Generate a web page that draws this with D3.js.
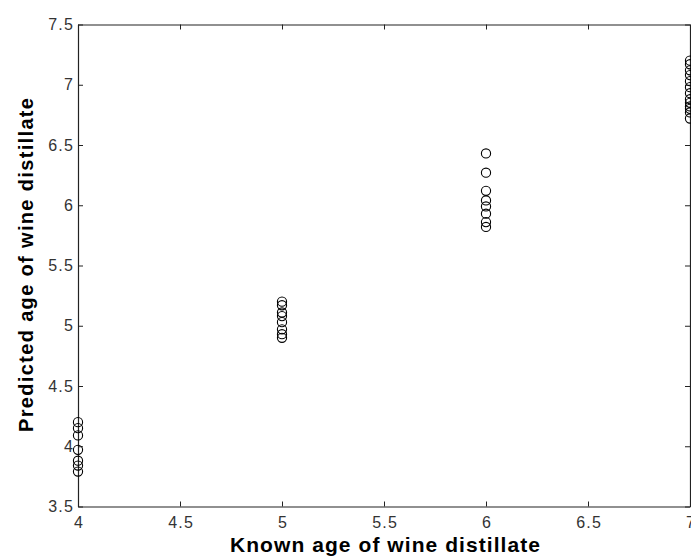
<!DOCTYPE html>
<html>
<head>
<meta charset="utf-8">
<script src="https://cdn.jsdelivr.net/npm/d3@7"></script>
<style>
  body { margin: 0; background: #fff; }
  svg { display: block; font-family: "Liberation Sans", Arial, sans-serif; }
</style>
</head>
<body>
<div id="chart"></div>
<script>
'use strict';

// known ages and predicted values
var knownAges = [4, 5, 6, 7];
var predAt4 = [4.20, 4.15, 4.09, 3.97, 3.88, 3.84, 3.79];
var predAt5 = [5.20, 5.17, 5.11, 5.08, 5.03, 4.97, 4.93, 4.90];
var predAt6 = [6.43, 6.27, 6.12, 6.04, 5.99, 5.93, 5.86, 5.82];
var predAt7 = [7.20, 7.17, 7.12, 7.08, 7.03, 6.98, 6.93, 6.88, 6.85, 6.82, 6.80, 6.77, 6.72];
var xTicks = [4, 4.5, 5, 5.5, 6, 6.5, 7];
var yTicks = [3.5, 4, 4.5, 5, 5.5, 6, 6.5, 7, 7.5];

(function () {
  var width = 691, height = 556;
  var left = 78, right = 690, top = 24.5, bottom = 506.5;

  var groups = [predAt4, predAt5, predAt6, predAt7];
  var points = [];
  groups.forEach(function (vals, i) {
    vals.forEach(function (v) { points.push({ x: knownAges[i], y: v }); });
  });

  var x = d3.scaleLinear().domain([4, 7]).range([left, right]);
  var y = d3.scaleLinear().domain([3.5, 7.5]).range([bottom, top]);

  var svg = d3.select('#chart').append('svg')
      .attr('width', width)
      .attr('height', height);

  var fmt = function (d) { return String(d); };

  svg.append('g')
      .attr('class', 'xaxis')
      .attr('transform', 'translate(0,' + bottom + ')')
      .call(d3.axisBottom(x).tickValues(xTicks).tickFormat(fmt).tickSizeInner(-5).tickSizeOuter(0).tickPadding(10));
  svg.append('g')
      .attr('class', 'yaxis')
      .attr('transform', 'translate(' + left + ',0)')
      .call(d3.axisLeft(y).tickValues(yTicks).tickFormat(fmt).tickSizeInner(-5).tickSizeOuter(0).tickPadding(5));
  svg.append('g')
      .attr('transform', 'translate(0,' + top + ')')
      .call(d3.axisTop(x).tickValues(xTicks).tickFormat('').tickSizeInner(-5).tickSizeOuter(0));
  svg.append('g')
      .attr('transform', 'translate(' + right + ',0)')
      .call(d3.axisRight(y).tickValues(yTicks).tickFormat('').tickSizeInner(-5).tickSizeOuter(0));

  svg.selectAll('.domain').attr('stroke', '#222').attr('stroke-width', 1.2);
  svg.selectAll('.tick line').attr('stroke', '#222');
  svg.selectAll('.tick text')
      .attr('fill', '#333')
      .style('font-size', '16px')
      .style('letter-spacing', '1.2px')
      .style('font-family', '"Liberation Sans", Arial, sans-serif');
  // trailing letter-spacing pushes centred labels left; nudge back
  svg.selectAll('.xaxis .tick text').attr('dx', '0.6');
  svg.selectAll('.yaxis .tick text').attr('dx', '1');

  svg.append('g').selectAll('circle')
      .data(points)
    .enter().append('circle')
      .attr('cx', function (d) { return x(d.x); })
      .attr('cy', function (d) { return y(d.y); })
      .attr('r', 4.6)
      .attr('fill', 'none')
      .attr('stroke', '#000')
      .attr('stroke-width', 1.1);

  svg.append('text')
      .attr('x', 385)
      .attr('y', 552)
      .attr('text-anchor', 'middle')
      .attr('textLength', 310)
      .attr('lengthAdjust', 'spacing')
      .style('font-size', '21px')
      .style('font-weight', 'bold')
      .text('Known age of wine distillate');

  svg.append('text')
      .attr('transform', 'translate(33,265) rotate(-90)')
      .attr('text-anchor', 'middle')
      .attr('textLength', 334)
      .attr('lengthAdjust', 'spacing')
      .style('font-size', '20px')
      .style('font-weight', 'bold')
      .text('Predicted age of wine distillate');
})();
</script>
</body>
</html>
